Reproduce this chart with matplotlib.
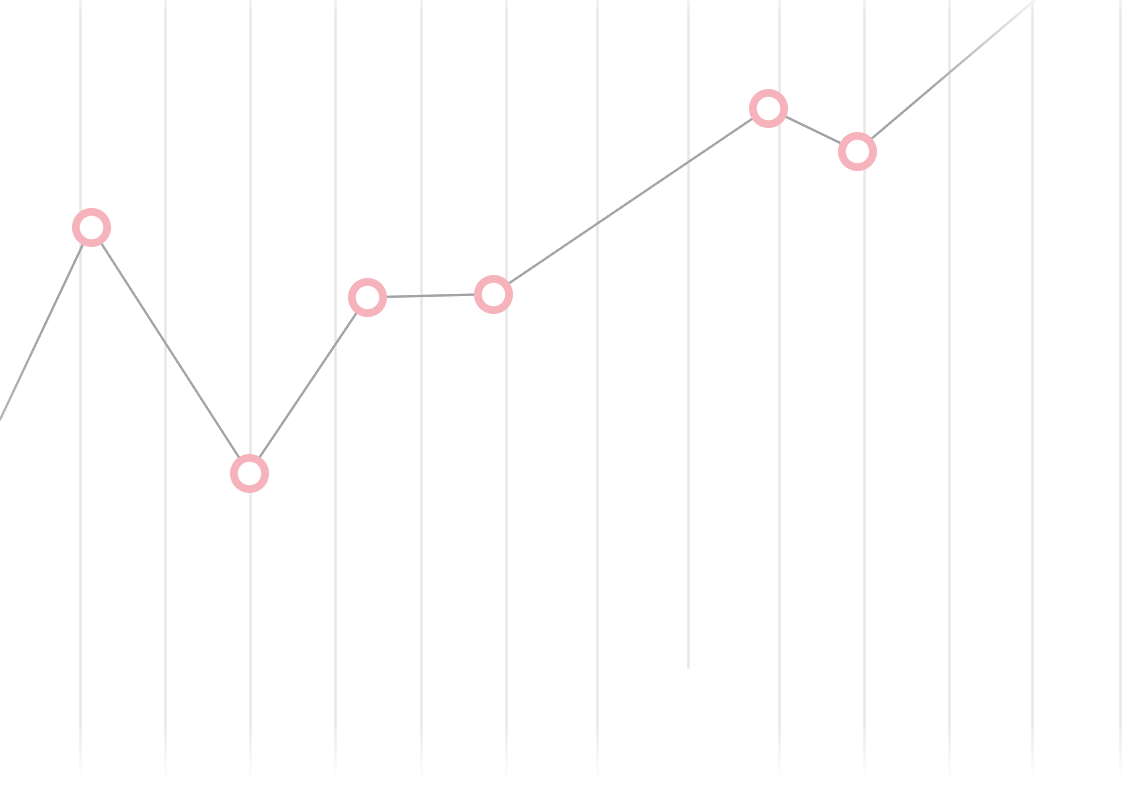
#!/usr/bin/env python3
"""Line with ring markers over faded vertical grid lines."""
import numpy as np
import matplotlib
matplotlib.use("Agg")
import matplotlib.pyplot as plt
from matplotlib.collections import LineCollection
from matplotlib.colors import to_rgb

# --- data -------------------------------------------------------------
x_pos  = [0, 91, 249, 367, 493, 768, 857, 1035]          # first/last run off the plot
values = [47.2, 71.4, 40.5, 62.6, 63.0, 86.4, 81.0, 100.0]
grid_x   = [80, 165, 250, 335, 421, 506, 597, 688, 779, 864, 949, 1032, 1120]
grid_end = [0, 0, 0, 0, 0, 0, 0, 16.0, 0, 0, 0, 0, 0]    # lowest value reached by each grid line

XMAX, YMAX = 1125, 100
LINE_C  = "#a1a4a7"
GRID_C  = "#e6e6e6"
RING_C  = "#f7b3bb"


def fade(c, a):
    """Blend colour c with white background (opaque, avoids overlap seams)."""
    c = np.array(to_rgb(c))
    return tuple(1 - a * (1 - c))


def grid_alpha(y):
    top = 0.55 + 0.45 * np.clip((YMAX - y) / 2.0, 0, 1)
    bot = np.clip((y - 1.9) / (9.4 - 1.9), 0, 1)
    return top * bot


def line_alpha(x):
    left = 0.8 + 0.2 * np.clip(x / 45.0, 0, 1)
    right = 1 - 0.9 * np.clip((x - 930) / (1040 - 930), 0, 1)
    return left * right


fig = plt.figure(figsize=(11.25, 7.95), dpi=100)
ax = fig.add_axes([0, 0, 1, 1])
ax.set_xlim(0, XMAX)
ax.set_ylim(0, YMAX)
ax.axis("off")

# faded vertical grid lines
for gx, gend in zip(grid_x, grid_end):
    ys = np.linspace(YMAX, max(gend, 1.5), 240)
    segs = [[(gx, ys[i]), (gx, ys[i + 1])] for i in range(len(ys) - 1)]
    mids = (ys[:-1] + ys[1:]) / 2
    cols = [fade(GRID_C, a) for a in grid_alpha(mids)]
    ax.add_collection(LineCollection(segs, colors=cols, linewidths=1.8,
                                     capstyle="butt", zorder=1))

# main line, fading at both edges
segs, cols = [], []
for (x0, y0), (x1, y1) in zip(zip(x_pos[:-1], values[:-1]), zip(x_pos[1:], values[1:])):
    t = np.linspace(0, 1, 61)
    xs, ys = x0 + (x1 - x0) * t, y0 + (y1 - y0) * t
    for i in range(len(t) - 1):
        segs.append([(xs[i], ys[i]), (xs[i + 1], ys[i + 1])])
        cols.append(fade(LINE_C, line_alpha((xs[i] + xs[i + 1]) / 2)))
ax.add_collection(LineCollection(segs, colors=cols, linewidths=1.6,
                                 capstyle="round", zorder=2))

# ring markers
ax.plot(x_pos[1:-1], values[1:-1], ls="none", marker="o", ms=22.5,
        mfc="white", mec=RING_C, mew=5.6, zorder=3)

fig.savefig("out.png", dpi=100, facecolor="white")
